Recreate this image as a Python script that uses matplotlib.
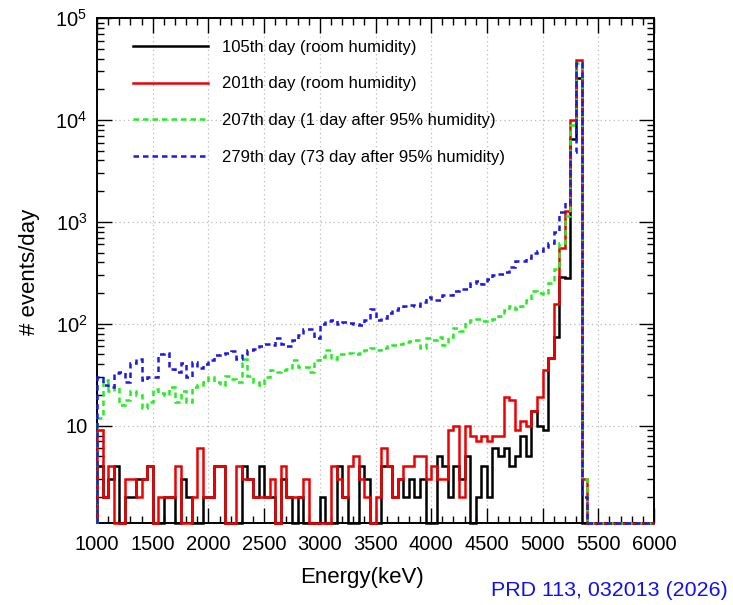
import numpy as np
import matplotlib.pyplot as plt
from matplotlib.ticker import FixedLocator, FixedFormatter, LogLocator, NullFormatter, MultipleLocator

plt.rcParams['font.family'] = ['Liberation Sans', 'DejaVu Sans']
plt.rcParams['mathtext.fontset'] = 'custom'
plt.rcParams['mathtext.rm'] = 'Liberation Sans'

# 50 keV bins from 1000 to 6000 keV, counts per day
bin_edges = np.arange(1000, 6001, 50)

day105 = [4, 2, 3, 4, 0, 2, 2, 3, 3, 4,
          0, 0, 2, 2, 0, 3, 2, 0, 0, 2,
          2, 4, 4, 0, 0, 0, 4, 3, 2, 4,
          2, 2, 0, 3, 2, 0, 2, 0, 0, 0,
          2, 0, 0, 4, 2, 0, 0, 4, 3, 0,
          0, 4, 4, 2, 3, 2, 3, 2, 3, 0,
          0, 5, 4, 2, 4, 3, 5, 0, 2, 4,
          2, 6, 5, 6, 4, 5, 8, 5, 14, 10,
          9, 46, 74, 290, 280, 6500, 26000, 0, 0, 0,
          0, 0, 0, 0, 0, 0, 0, 0, 0, 0]

day201 = [9, 2, 4, 0, 0, 3, 3, 2, 3, 4,
          0, 2, 2, 2, 4, 0, 0, 2, 6, 2,
          2, 4, 4, 0, 0, 4, 3, 3, 2, 2,
          2, 3, 0, 4, 2, 2, 2, 3, 0, 0,
          0, 0, 4, 3, 2, 4, 5, 3, 2, 0,
          2, 6, 4, 2, 3, 4, 4, 5, 5, 3,
          4, 3, 3, 9, 10, 2, 10, 8, 7, 8,
          7, 8, 8, 19, 18, 9, 11, 10, 14, 19,
          35, 46, 155, 550, 1270, 10000, 39000, 3, 0, 0,
          0, 0, 0, 0, 0, 0, 0, 0, 0, 0]

day207 = [12, 28, 22, 24, 16, 18, 22, 20, 15, 17,
          23, 21, 20, 24, 17, 22, 17, 24, 25, 27,
          30, 27, 25, 31, 29, 27, 45, 31, 27, 25,
          30, 35, 34, 35, 36, 44, 38, 38, 34, 44,
          47, 55, 45, 51, 50, 52, 50, 52, 55, 58,
          55, 58, 60, 62, 64, 66, 68, 70, 58, 73,
          70, 75, 62, 75, 90, 85, 105, 108, 112, 107,
          110, 112, 120, 135, 148, 140, 150, 170, 210, 200,
          195, 250, 345, 620, 1150, 9000, 36000, 3, 0, 0,
          0, 0, 0, 0, 0, 0, 0, 0, 0, 0]

day279 = [30, 25, 24, 33, 34, 27, 41, 45, 28, 30,
          30, 50, 52, 36, 34, 41, 30, 42, 37, 40,
          44, 49, 50, 52, 54, 45, 50, 55, 57, 60,
          63, 62, 72, 64, 60, 70, 78, 88, 88, 72,
          100, 107, 110, 100, 105, 102, 100, 98, 110, 140,
          110, 115, 128, 138, 142, 150, 152, 148, 165, 185,
          170, 170, 190, 190, 210, 220, 220, 250, 265, 245,
          275, 300, 310, 320, 360, 410, 410, 440, 500, 520,
          570, 620, 790, 1250, 1580, 4900, 36000, 2, 0, 0,
          0, 0, 0, 0, 0, 0, 0, 0, 0, 0]

labels = ['105th day (room humidity)',
          '201th day (room humidity)',
          '207th day (1 day after 95% humidity)',
          '279th day (73 day after 95% humidity)']

W, H = 733, 605
ymin, ymax = 1.11, 1e5

fig = plt.figure(figsize=(W / 100, H / 100), dpi=100)
ax = fig.add_axes([97 / W, 1 - 523 / H, 557 / W, 505 / H])

styles = [('black', '-'), ('#ee0000', '-'),
          ('#22ee22', (0, (2.2, 1.6))), ('#1a1ae6', (0, (2.2, 1.6)))]
for vals, lab, (col, ls) in zip([day105, day201, day207, day279], labels, styles):
    v = np.clip(np.array(vals, dtype=float), ymin, None)
    ax.stairs(v, bin_edges, baseline=ymin, color=col, lw=1.8,
              linestyle=ls, label=lab, zorder=3, clip_on=False)

ax.set_xlim(1000, 6000)
ax.set_yscale('log')
ax.set_ylim(ymin, ymax)

ax.xaxis.set_major_locator(MultipleLocator(500))
ax.xaxis.set_minor_locator(MultipleLocator(100))
ax.yaxis.set_major_locator(FixedLocator([10, 1e2, 1e3, 1e4, 1e5]))
ax.yaxis.set_major_formatter(FixedFormatter(
    ['10', r'$10^{2}$', r'$10^{3}$', r'$10^{4}$', r'$10^{5}$']))
ax.yaxis.set_minor_locator(LogLocator(base=10, subs=np.arange(2, 10), numticks=20))
ax.yaxis.set_minor_formatter(NullFormatter())

ax.tick_params(which='both', direction='in', top=True, right=True, width=1)
ax.tick_params(which='major', length=11, labelsize=14.5)
ax.tick_params(which='minor', length=5)
ax.tick_params(axis='x', which='major', pad=9)
ax.tick_params(axis='y', which='major', pad=7)
for s in ax.spines.values():
    s.set_linewidth(1.4)

ax.grid(True, which='major', linestyle=(0, (1, 2.5)), color='#bbbbbb', lw=0.9)
ax.set_axisbelow(True)

leg = ax.legend(loc='upper left', bbox_to_anchor=(0.064, 0.957), frameon=False,
                fontsize=12, handlelength=4.5, handletextpad=0.85,
                labelspacing=1.3, borderpad=0, borderaxespad=0)

fig.text(30 / W, 1 - 272 / H, '# events/day', rotation=90, ha='center', va='center', fontsize=16)
fig.text(362 / W, 1 - 578 / H, 'Energy(keV)', ha='center', va='center', fontsize=16)
fig.text(728 / W, 1 - 590 / H, 'PRD 113, 032013 (2026)', ha='right', va='center',
         fontsize=15.4, color='#1010f0')

fig.savefig('out.png', dpi=100)
